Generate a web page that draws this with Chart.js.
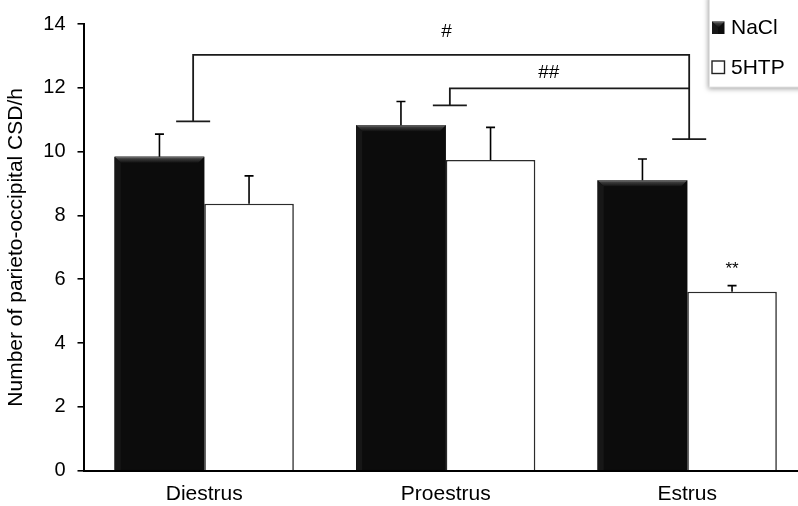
<!DOCTYPE html>
<html>
<head>
<meta charset="utf-8">
<script src="https://cdn.jsdelivr.net/npm/chart.js@4.4.1/dist/chart.umd.min.js"></script>
<style>
  html, body { margin: 0; padding: 0; background: #fff; overflow: hidden; }
  #wrap { position: relative; width: 808px; height: 506px; }
</style>
</head>
<body>
<div id="wrap"><canvas id="chart"></canvas></div>
<script>
// data
const categories = ['Diestrus', 'Proestrus', 'Estrus'];
const seriesNames = ['NaCl', '5HTP'];
const naclMeans = [9.84, 10.83, 9.10];
const naclErr = [0.71, 0.74, 0.67];
const htpMeans = [8.37, 9.74, 5.61];
const htpErr = [0.87, 1.02, 0.19];
const yTicks = [0, 2, 4, 6, 8, 10, 12, 14];

// significance brackets (category index / value units)
const bracketX1 = [-0.046, 1.017];
const bracketX2 = [2.008, 2.008];
const bracketTop = [13.03, 11.98];
const bracketLeftFoot = [10.95, 11.45];
const bracketRightFoot = [10.39, null];
const bracketLabels = ['#', '##'];
const bracketLabelX = [1.003, 1.427];
const bracketLabelY = [13.75, 12.48];

const FONT = '"Liberation Sans", Arial, Helvetica, sans-serif';

function catToPx(xs, v) {
  // category scale: index -> pixel, allows fractional positions
  const a = xs.getPixelForValue(0), b = xs.getPixelForValue(1);
  return a + (b - a) * v;
}

function bevelRect(ctx, x, y, w, h) {
  ctx.save();
  ctx.fillStyle = '#0c0c0c';
  ctx.fillRect(x, y, w, h);
  const d = Math.min(6, h / 2);
  const g = ctx.createLinearGradient(0, y, 0, y + d);
  g.addColorStop(0, '#7a7a7a');
  g.addColorStop(0.35, '#3a3a3a');
  g.addColorStop(1, '#111');
  ctx.fillStyle = g;
  ctx.beginPath();
  ctx.moveTo(x, y);
  ctx.lineTo(x + w, y);
  ctx.lineTo(x + w - d, y + d);
  ctx.lineTo(x + d, y + d);
  ctx.closePath();
  ctx.fill();
  ctx.fillStyle = '#171717';
  ctx.beginPath();
  ctx.moveTo(x, y);
  ctx.lineTo(x + d, y + d);
  ctx.lineTo(x + d, y + h);
  ctx.lineTo(x, y + h);
  ctx.closePath();
  ctx.fill();
  ctx.restore();
}

const decorations = {
  id: 'decorations',
  afterDatasetsDraw(chart) {
    const ctx = chart.ctx;
    const xs = chart.scales.x, ys = chart.scales.y;

    // bevel on the black bars
    chart.getDatasetMeta(0).data.forEach(bar => {
      bevelRect(ctx, bar.x - bar.width / 2, bar.y, bar.width, bar.base - bar.y);
    });

    // error bars (upper only)
    const errs = [naclErr, htpErr];
    const means = [naclMeans, htpMeans];
    ctx.save();
    ctx.strokeStyle = '#000';
    ctx.lineWidth = 1.6;
    [0, 1].forEach(di => {
      chart.getDatasetMeta(di).data.forEach((bar, i) => {
        const yTop = ys.getPixelForValue(means[di][i] + errs[di][i]);
        ctx.beginPath();
        ctx.moveTo(bar.x, bar.y);
        ctx.lineTo(bar.x, yTop);
        ctx.moveTo(bar.x - 4.5, yTop);
        ctx.lineTo(bar.x + 4.5, yTop);
        ctx.stroke();
      });
    });
    ctx.restore();

    // ** over Estrus 5HTP
    const lastBar = chart.getDatasetMeta(1).data[2];
    const starY = ys.getPixelForValue(htpMeans[2] + htpErr[2]) - 16;
    ctx.save();
    ctx.fillStyle = '#000';
    ctx.font = '17px ' + FONT;
    ctx.textAlign = 'center';
    ctx.textBaseline = 'middle';
    ctx.fillText('**', lastBar.x, starY);
    ctx.restore();

    // brackets
    ctx.save();
    ctx.strokeStyle = '#1a1a1a';
    ctx.lineWidth = 1.8;
    const foot = 17;
    bracketLabels.forEach((lab, i) => {
      const x1 = catToPx(xs, bracketX1[i]);
      const x2 = catToPx(xs, bracketX2[i]);
      const yt = ys.getPixelForValue(bracketTop[i]);
      ctx.beginPath();
      ctx.moveTo(x1, ys.getPixelForValue(bracketLeftFoot[i]));
      ctx.lineTo(x1, yt);
      ctx.lineTo(x2, yt);
      if (bracketRightFoot[i] !== null) ctx.lineTo(x2, ys.getPixelForValue(bracketRightFoot[i]));
      ctx.stroke();
      ctx.beginPath();
      const yl = ys.getPixelForValue(bracketLeftFoot[i]);
      ctx.moveTo(x1 - foot, yl);
      ctx.lineTo(x1 + foot, yl);
      if (bracketRightFoot[i] !== null) {
        const yr = ys.getPixelForValue(bracketRightFoot[i]);
        ctx.moveTo(x2 - foot, yr);
        ctx.lineTo(x2 + foot, yr);
      }
      ctx.stroke();
      ctx.fillStyle = '#000';
      ctx.font = '19px ' + FONT;
      ctx.textAlign = 'center';
      ctx.textBaseline = 'middle';
      ctx.fillText(lab, catToPx(xs, bracketLabelX[i]), ys.getPixelForValue(bracketLabelY[i]));
    });
    ctx.restore();
  },
  afterDraw(chart) {
    // legend box, top right, with drop shadow
    const ctx = chart.ctx;
    ctx.save();
    ctx.shadowColor = 'rgba(0,0,0,0.35)';
    ctx.shadowBlur = 5;
    ctx.shadowOffsetX = -1;
    ctx.shadowOffsetY = 2;
    ctx.fillStyle = '#fff';
    ctx.fillRect(709, -6, 110, 93);
    ctx.restore();
    ctx.save();
    ctx.strokeStyle = '#e4e4e4';
    ctx.lineWidth = 1;
    ctx.strokeRect(709.5, -6, 110, 93);
    ctx.font = '21px ' + FONT;
    ctx.textBaseline = 'middle';
    ctx.fillStyle = '#000';
    // NaCl
    bevelRect(ctx, 712, 21.5, 12.5, 12.5);
    ctx.fillStyle = '#000';
    ctx.fillText(seriesNames[0], 731, 28.5);
    // 5HTP
    ctx.fillStyle = '#fff';
    ctx.fillRect(712, 61, 12.5, 12.5);
    ctx.strokeStyle = '#222';
    ctx.lineWidth = 1.4;
    ctx.strokeRect(712, 61, 12.5, 12.5);
    ctx.fillStyle = '#000';
    ctx.fillText(seriesNames[1], 731, 68);
    ctx.restore();
  }
};

new Chart(document.getElementById('chart'), {
  type: 'bar',
  data: {
    labels: categories,
    datasets: [
      {
        label: seriesNames[0],
        data: naclMeans,
        backgroundColor: '#0c0c0c',
        borderWidth: 0
      },
      {
        label: seriesNames[1],
        data: htpMeans,
        backgroundColor: '#ffffff',
        borderColor: '#2b2b2b',
        borderWidth: 1.6,
        borderSkipped: 'bottom'
      }
    ]
  },
  options: {
    responsive: true,
    maintainAspectRatio: false,
    animation: false,
    layout: { padding: { top: 20, right: 0, left: 0, bottom: 0 } },
    datasets: { bar: { categoryPercentage: 0.742, barPercentage: 1.0 } },
    plugins: {
      legend: { display: false },
      tooltip: { enabled: false }
    },
    scales: {
      x: {
        grid: { display: true, drawOnChartArea: false, drawTicks: false },
        border: { display: true, color: '#000', width: 2 },
        ticks: { color: '#000', font: { family: FONT, size: 21 }, padding: 11 },
        afterFit(scale) { scale.height = 35.3; }
      },
      y: {
        min: 0,
        max: 14,
        afterBuildTicks(scale) { scale.ticks = yTicks.map(v => ({ value: v })); },
        grid: { display: true, drawOnChartArea: false, drawTicks: true, tickLength: 6, color: '#000', lineWidth: 1.6 },
        border: { display: true, color: '#000', width: 2 },
        ticks: { color: '#000', font: { family: FONT, size: 20 }, padding: 12 },
        title: {
          display: true,
          text: 'Number of parieto-occipital CSD/h',
          color: '#000',
          font: { family: FONT, size: 21 },
          padding: { top: 4, bottom: 0 }
        },
        afterFit(scale) { scale.width = 83.5; }
      }
    }
  },
  plugins: [decorations]
});
</script>
</body>
</html>
